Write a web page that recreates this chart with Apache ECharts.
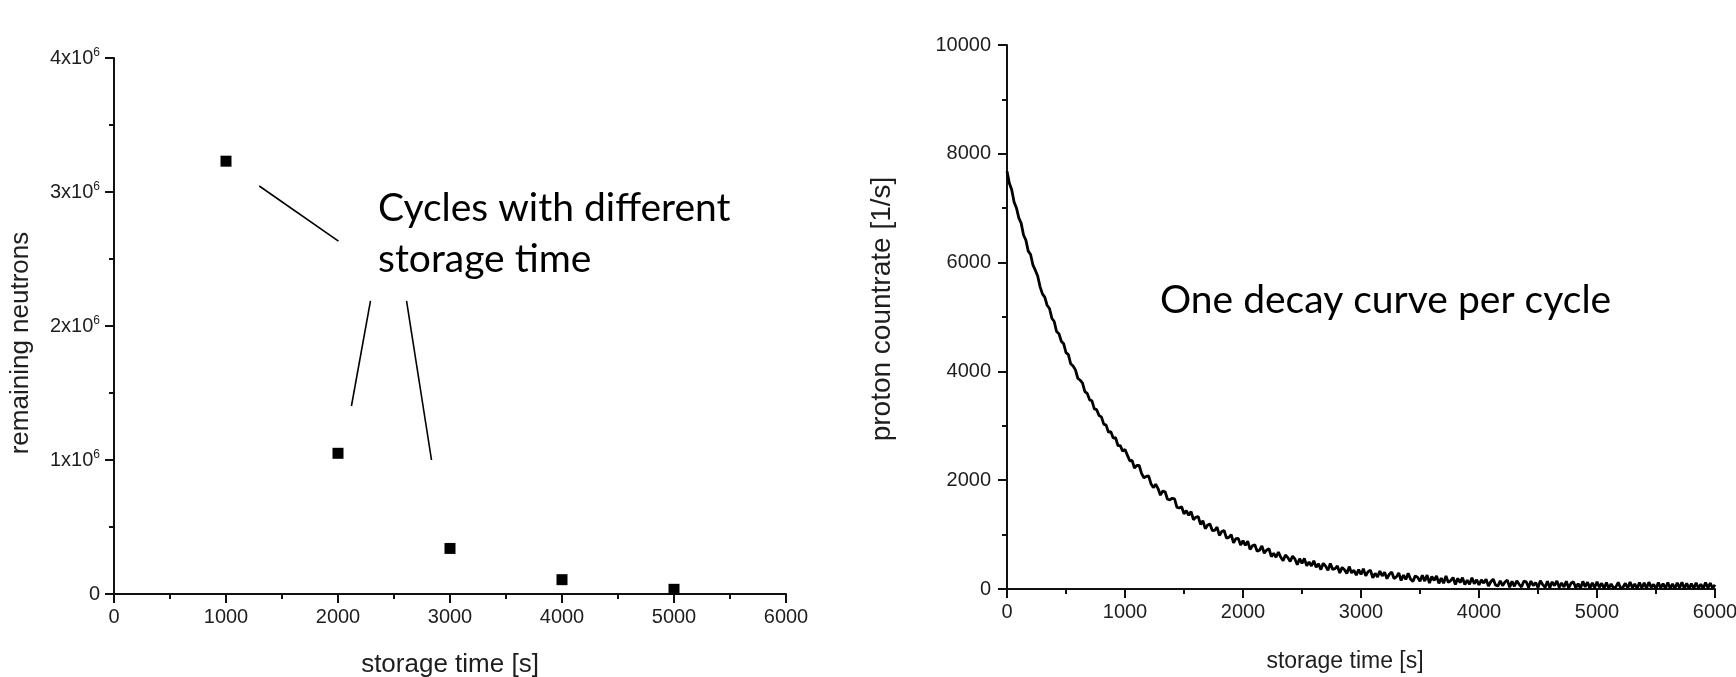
<!DOCTYPE html>
<html>
<head>
<meta charset="utf-8">
<title>storage cycles and decay curve</title>
<script src="https://cdn.jsdelivr.net/npm/echarts@6/dist/echarts.min.js"></script>
<style>
html, body { margin: 0; padding: 0; background: #fff; }
#main { width: 1736px; height: 677px; }
</style>
</head>
<body>
<div id="main"></div>
<script>
// left panel: neutrons left after each storage cycle
const storageTimes = [1000, 2000, 3000, 4000, 5000];
const remainingNeutrons = [3.23e6, 1.05e6, 0.34e6, 0.107e6, 0.035e6];
const neutronTicks = [0, 1e6, 2e6, 3e6, 4e6];

// right panel: proton count rate, one sample every 20 s (0 .. 6000 s)
const protonStep = 20;
const protonRate = [
  7680, 7460, 7340, 7115, 7005, 6823, 6726, 6508, 6413, 6211,
  6148, 5952, 5860, 5755, 5559, 5426, 5365, 5216, 5156, 4978,
  4917, 4734, 4693, 4555, 4509, 4346, 4309, 4140, 4098, 4028,
  3874, 3838, 3784, 3626, 3596, 3477, 3460, 3310, 3296, 3189,
  3164, 3030, 3013, 2882, 2893, 2775, 2784, 2638, 2635, 2532,
  2566, 2461, 2357, 2365, 2224, 2274, 2270, 2127, 2045, 2069,
  2080, 1936, 1863, 1926, 1846, 1725, 1801, 1788, 1650, 1639,
  1668, 1658, 1499, 1491, 1513, 1381, 1440, 1354, 1424, 1275,
  1317, 1334, 1187, 1255, 1109, 1174, 1194, 1075, 1076, 1138,
  985, 1058, 1076, 935, 949, 999, 849, 925, 931, 807,
  889, 801, 879, 727, 795, 814, 693, 713, 792, 658,
  713, 744, 595, 657, 583, 681, 583, 521, 624, 577,
  505, 604, 553, 447, 556, 471, 561, 426, 496, 422,
  518, 399, 465, 356, 473, 420, 342, 469, 361, 374,
  422, 294, 397, 355, 284, 412, 296, 345, 254, 358,
  267, 371, 241, 320, 345, 204, 289, 219, 329, 239,
  310, 190, 271, 311, 192, 223, 294, 155, 256, 177,
  288, 179, 141, 242, 214, 141, 253, 145, 256, 108,
  230, 157, 239, 102, 199, 106, 239, 121, 154, 211,
  84, 196, 119, 207, 80, 163, 85, 208, 96, 169,
  73, 170, 108, 181, 54, 134, 182, 75, 53, 152,
  61, 129, 163, 31, 140, 49, 153, 86, 35, 144,
  133, 27, 146, 60, 119, 27, 151, 80, 29, 143,
  22, 131, 60, 149, 29, 113, 37, 141, 20, 105,
  134, 23, 98, 12, 141, 40, 125, 14, 113, 23,
  132, 32, 106, 10, 120, 14, 94, 18, 38, 122,
  12, 31, 106, 15, 130, 24, 94, 8, 118, 18,
  112, 12, 126, 31, 86, 5, 120, 20, 99, 9,
  119, 13, 93, 8, 112, 22, 122, 7, 106, 11,
  101, 6, 115, 15, 90, 10, 120, 19, 109, 14,
  80
];
const rateTicks = [0, 2000, 4000, 6000, 8000, 10000];
const timeTicks = [0, 1000, 2000, 3000, 4000, 5000, 6000];

// leader lines from the note to the points, in data units
const leaderLines = [
  [[1297, 3.045e6], [2004, 2.634e6]],
  [[2290, 2.187e6], [2120, 1.403e6]],
  [[2612, 2.187e6], [2835, 1.0e6]]
];

const axisFont = 'Liberation Sans, Arial, sans-serif';
const noteFont = 'Lato, Open Sans, sans-serif';
const ink = '#111';
const labelInk = '#1e1e1e';

const step = (ticks) => ticks[1] - ticks[0];

const valueAxis = (grid, ticks, extra) => Object.assign({
  type: 'value',
  gridIndex: grid,
  min: ticks[0],
  max: ticks[ticks.length - 1],
  interval: step(ticks),
  splitLine: { show: false },
  axisLine: { show: true, onZero: false, lineStyle: { color: ink, width: 2 } },
  axisTick: { show: true, inside: false, length: 9, lineStyle: { color: ink, width: 2 } },
  minorTick: { show: true, splitNumber: 2, length: 5, lineStyle: { color: ink, width: 2 } },
  axisLabel: { color: labelInk, fontSize: 20, fontFamily: axisFont, margin: 13, formatter: (v) => String(v) },
  nameLocation: 'middle'
}, extra);

const protonData = protonRate.map((v, i) => [i * protonStep, v]);

const chart = echarts.init(document.getElementById('main'));
chart.setOption({
  animation: false,
  backgroundColor: '#fff',
  grid: [
    { left: 114, top: 58, width: 672, height: 536, outerBoundsMode: 'none' },
    { left: 1007, top: 45, width: 708, height: 544, outerBoundsMode: 'none' }
  ],
  xAxis: [
    valueAxis(0, timeTicks, {
      name: 'storage time [s]', nameGap: 58,
      nameTextStyle: { color: labelInk, fontFamily: axisFont, fontSize: 26 }
    }),
    valueAxis(1, timeTicks, {
      name: 'storage time [s]', nameGap: 61,
      nameTextStyle: { color: labelInk, fontFamily: axisFont, fontSize: 23, padding: [0, 32, 0, 0] }
    })
  ],
  yAxis: [
    valueAxis(0, neutronTicks, {
      name: 'remaining neutrons', nameGap: 80,
      nameTextStyle: { color: labelInk, fontFamily: axisFont, fontSize: 26, padding: [0, 34, 0, 0] },
      axisLabel: {
        color: labelInk, fontFamily: axisFont, margin: 14,
        formatter: (v) => v === 0 ? '{m|0}' : '{m|' + (v / 1e6) + 'x10}{e|6}',
        rich: {
          m: { fontSize: 20, fontFamily: axisFont, color: labelInk },
          e: { fontSize: 12, fontFamily: axisFont, color: labelInk, padding: [0, 0, 10, 0] }
        }
      }
    }),
    valueAxis(1, rateTicks, {
      name: 'proton countrate [1/s]', nameGap: 111,
      nameTextStyle: { color: labelInk, fontFamily: axisFont, fontSize: 28, padding: [0, 0, 0, 16] },
      axisLabel: { color: labelInk, fontSize: 20, fontFamily: axisFont, margin: 16, formatter: (v) => String(v) }
    })
  ],
  series: [
    {
      type: 'scatter',
      xAxisIndex: 0,
      yAxisIndex: 0,
      symbol: 'rect',
      symbolSize: 11,
      itemStyle: { color: '#000', opacity: 1 },
      data: storageTimes.map((t, i) => [t, remainingNeutrons[i]]),
      markLine: {
        silent: true,
        symbol: 'none',
        label: { show: false },
        lineStyle: { color: '#000', width: 1.6, type: 'solid', opacity: 1 },
        data: leaderLines.map(([a, b]) => [{ coord: a }, { coord: b }])
      }
    },
    {
      type: 'line',
      xAxisIndex: 1,
      yAxisIndex: 1,
      showSymbol: false,
      lineStyle: { color: '#000', width: 2.8 },
      data: protonData
    }
  ],
  graphic: [
    {
      type: 'text', left: 378, top: 183,
      style: {
        text: 'Cycles with different\nstorage time',
        font: '39px ' + noteFont, lineHeight: 51, fill: '#000'
      }
    },
    {
      type: 'text', left: 1160, top: 281,
      style: { text: 'One decay curve per cycle', font: '39px ' + noteFont, fill: '#000' }
    }
  ]
});
</script>
</body>
</html>
